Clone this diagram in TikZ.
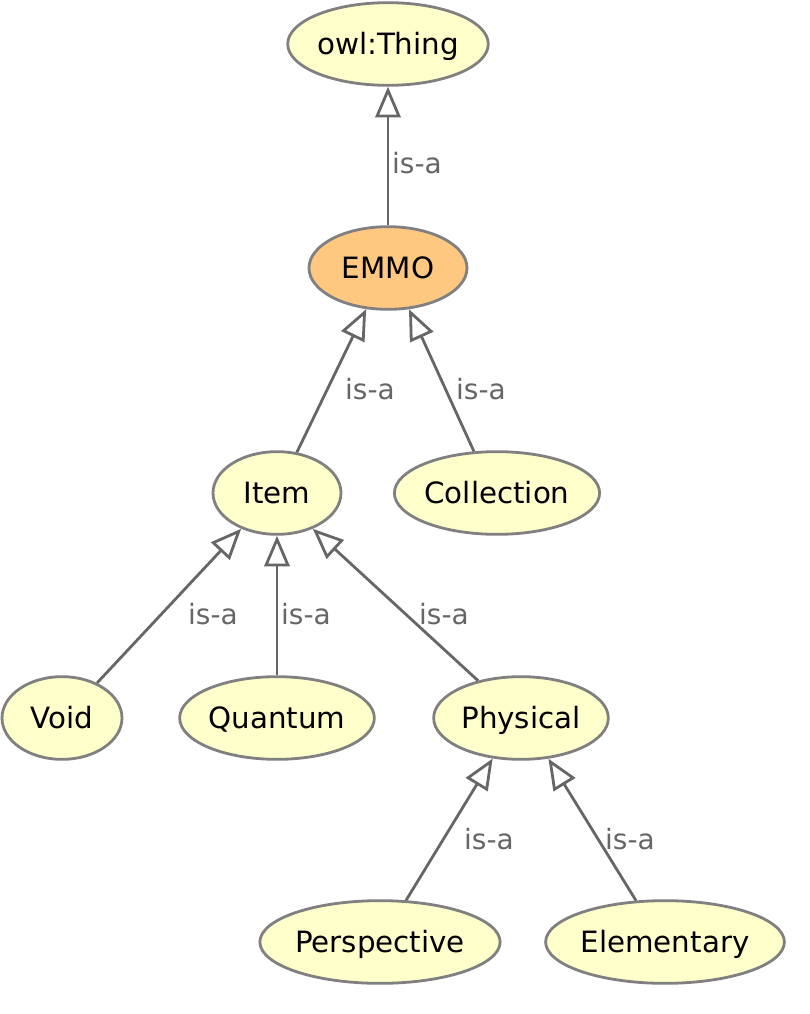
\documentclass[tikz,border=0pt]{standalone}
\usepackage{fontspec}
\setmainfont{DejaVu Sans}
\usetikzlibrary{shapes.geometric,arrows.meta}
\definecolor{nodefill}{HTML}{FFFFCC}
\definecolor{rootfill}{HTML}{FFC880}
\definecolor{nodeline}{HTML}{808080}
\definecolor{edgeline}{HTML}{666666}
\tikzset{
  cls/.style={ellipse, draw=nodeline, fill=nodefill, line width=2.1pt, inner sep=0pt,
    minimum height=62pt, text height=16pt, text depth=0pt,
    font=\fontsize{22pt}{26pt}\selectfont, text=black},
  isa/.style={draw=edgeline, line width=2.1pt,
    -{Triangle[open, fill=white, length=23pt, width=19pt]}},
  isalabel/.style={inner sep=0pt, text=edgeline, font=\fontsize{21pt}{25pt}\selectfont}
}
\begin{document}
\begin{tikzpicture}[x=0.75pt, y=-0.75pt]
\useasboundingbox (0,0) rectangle (810,1014);
\node[cls, minimum width=143.5pt] (thing) at (388,44) {owl:Thing};
\node[cls, fill=rootfill, minimum width=118.5pt] (emmo) at (388,268) {EMMO};
\node[cls, minimum width=96pt] (item) at (277,493) {Item};
\node[cls, minimum width=150pt] (collection) at (497,493) {Collection};
\node[cls, minimum width=90pt] (void) at (62,718) {Void};
\node[cls, minimum width=146pt] (quantum) at (277,718) {Quantum};
\node[cls, minimum width=131pt] (physical) at (521,718) {Physical};
\node[cls, minimum width=170pt] (perspective) at (380,942) {Perspective};
\node[cls, minimum width=170pt] (elementary) at (665,942) {Elementary};

\draw[isa] (emmo.north) -- (thing.south);
\draw[isa] (item.64.6) -- (emmo.242.4);
\draw[isa] (collection.119.9) -- (emmo.297.6);
\draw[isa] (void.45.9) -- (item.225.8);
\draw[isa] (quantum.north) -- (item.south);
\draw[isa] (physical.139.2) -- (item.315);
\draw[isa] (perspective.58) -- (physical.235);
\draw[isa] (elementary.125.7) -- (physical.304);

\node[isalabel] (l1) at (417,163) {is-a};
\node[isalabel] (l2) at (370,389) {is-a};
\node[isalabel] (l3) at (481,389) {is-a};
\node[isalabel] (l4) at (213,614) {is-a};
\node[isalabel] (l5) at (306,614) {is-a};
\node[isalabel] (l6) at (444,614) {is-a};
\node[isalabel] (l7) at (489,839) {is-a};
\node[isalabel] (l8) at (630,839) {is-a};
\end{tikzpicture}
\end{document}
